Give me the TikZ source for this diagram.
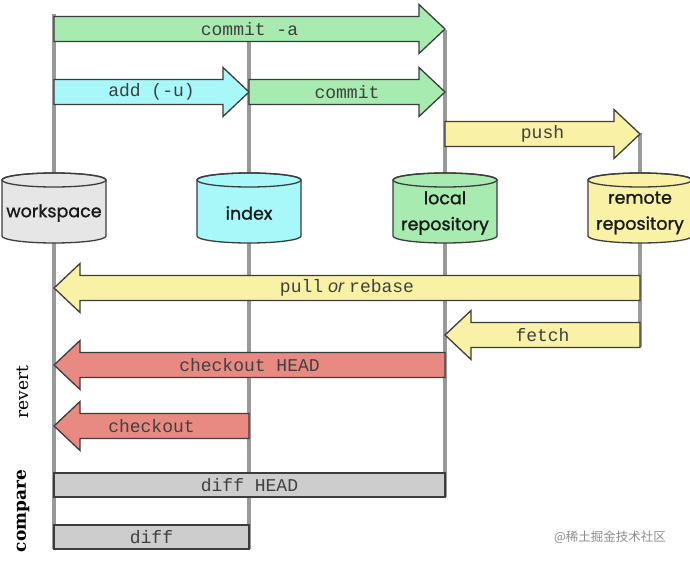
\documentclass[tikz,border=0pt]{standalone}
\usepackage{fontspec}
\newfontfamily\cylfont{Poppins}[FakeBold=1.2]
\newfontfamily\monofont{Liberation Mono}
\newfontfamily\orfont{Liberation Sans}
\newfontfamily\sidefont{DejaVu Serif}
\newfontfamily\cjkfont{Noto Sans CJK SC}
\definecolor{cgreen}{HTML}{A8EBB0}
\definecolor{ccyan}{HTML}{A8F8FA}
\definecolor{cyellow}{HTML}{F9F1A6}
\definecolor{cred}{HTML}{E98A82}
\definecolor{cgray}{HTML}{CDCDCD}
\definecolor{cws}{HTML}{E6E6E6}
\definecolor{cline}{HTML}{999999}
\definecolor{cedge}{HTML}{3C3C3C}
\tikzset{
  vline/.style={draw=cline, line width=3.2pt},
  shapeedge/.style={draw=cedge, line width=1.3pt, line join=miter},
  lbl/.style={font=\monofont\fontsize{18}{20}\selectfont, text=black!75, inner sep=0pt},
  cyltext/.style={font=\cylfont\fontsize{17.5}{26}\selectfont, text=black!90, align=center, inner sep=0pt},
  sidelbl/.style={font=\sidefont\fontsize{17}{20}\selectfont, rotate=90, inner sep=0pt},
}
% right-pointing arrow: name, x tail, x tip, y, colour, label
\newcommand\myrarrow[6]{%
  \filldraw[shapeedge, fill=#5] (#2,{#4-12.5}) -- ({#3-26},{#4-12.5}) -- ({#3-26},{#4-24.5}) -- (#3,#4)
    -- ({#3-26},{#4+24.5}) -- ({#3-26},{#4+12.5}) -- (#2,{#4+12.5}) -- cycle;
  \node[lbl] (#1) at ({(#2+#3)/2},#4) {#6};}
% left-pointing arrow: name, x tail, x tip, y, colour, label
\newcommand\mylarrow[6]{%
  \filldraw[shapeedge, fill=#5] (#2,{#4-12.5}) -- ({#3+26},{#4-12.5}) -- ({#3+26},{#4-24.5}) -- (#3,#4)
    -- ({#3+26},{#4+24.5}) -- ({#3+26},{#4+12.5}) -- (#2,{#4+12.5}) -- cycle;
  \node[lbl] (#1) at ({(#2+#3)/2},#4) {#6};}
% cylinder: name, x centre, colour, text
\newcommand\mycyl[4]{%
  \filldraw[shapeedge, fill=#3] ({#2-52},180) -- ({#2-52},236) arc[start angle=180, end angle=0, x radius=52, y radius=7]
    -- ({#2+52},180) arc[start angle=0, end angle=-180, x radius=52, y radius=7] -- cycle;
  \draw[shapeedge] (#2,180) ellipse[x radius=52, y radius=7];
  \node[cyltext] (#1) at (#2,213) {#4};}
\begin{document}
\begin{tikzpicture}[x=1pt,y=-1pt]
\useasboundingbox (0,0) rectangle (690,564);
% column lines
\coordinate (wsT) at (54,14);   \coordinate (wsB) at (54,549);
\coordinate (ixT) at (249,41);  \coordinate (ixB) at (249,549);
\coordinate (lrT) at (445,30);  \coordinate (lrB) at (445,497);
\coordinate (rrT) at (640,133); \coordinate (rrB) at (640,347);
\draw[vline] (wsT) -- (wsB);
\draw[vline] (ixT) -- (ixB);
\draw[vline] (lrT) -- (lrB);
\draw[vline] (rrT) -- (rrB);
% upper arrows
\myrarrow{commita}{54}{445}{29}{cgreen}{commit -a}
\myrarrow{add}{54}{249}{92}{ccyan}{add (-u)}
\myrarrow{commit}{249}{445}{92}{cgreen}{commit}
\myrarrow{push}{445}{640}{134}{cyellow}{push}
% cylinders
\mycyl{ws}{54}{cws}{workspace}
\mycyl{ix}{249}{ccyan}{index}
\mycyl{lr}{445}{cgreen}{local\\repository}
\mycyl{rr}{640}{cyellow}{remote\\repository}
% lower arrows
\mylarrow{pull}{640}{54}{288}{cyellow}{pull{\orfont\itshape\ or }rebase}
\mylarrow{fetch}{640}{445}{335}{cyellow}{fetch}
\mylarrow{cohead}{445}{54}{365}{cred}{checkout HEAD}
\mylarrow{co}{249}{54}{426}{cred}{checkout}
% compare boxes
\filldraw[shapeedge, fill=cgray] (54,473) rectangle (445,497);
\node[lbl] (diffhead) at (249.5,485) {diff HEAD};
\filldraw[shapeedge, fill=cgray] (54,525) rectangle (249,549);
\node[lbl] (diff) at (151.5,537) {diff};
% side labels
\node[sidelbl] (revert) at (23,392) {revert};
\node[sidelbl, font=\sidefont\bfseries\fontsize{17}{20}\selectfont] (compare) at (23,511) {compare};
% watermark
\node[font=\cjkfont\fontsize{12.5}{14}\selectfont, text=black!45, inner sep=0pt] (wm) at (610,537) {@稀土掘金技术社区};
\end{tikzpicture}
\end{document}
